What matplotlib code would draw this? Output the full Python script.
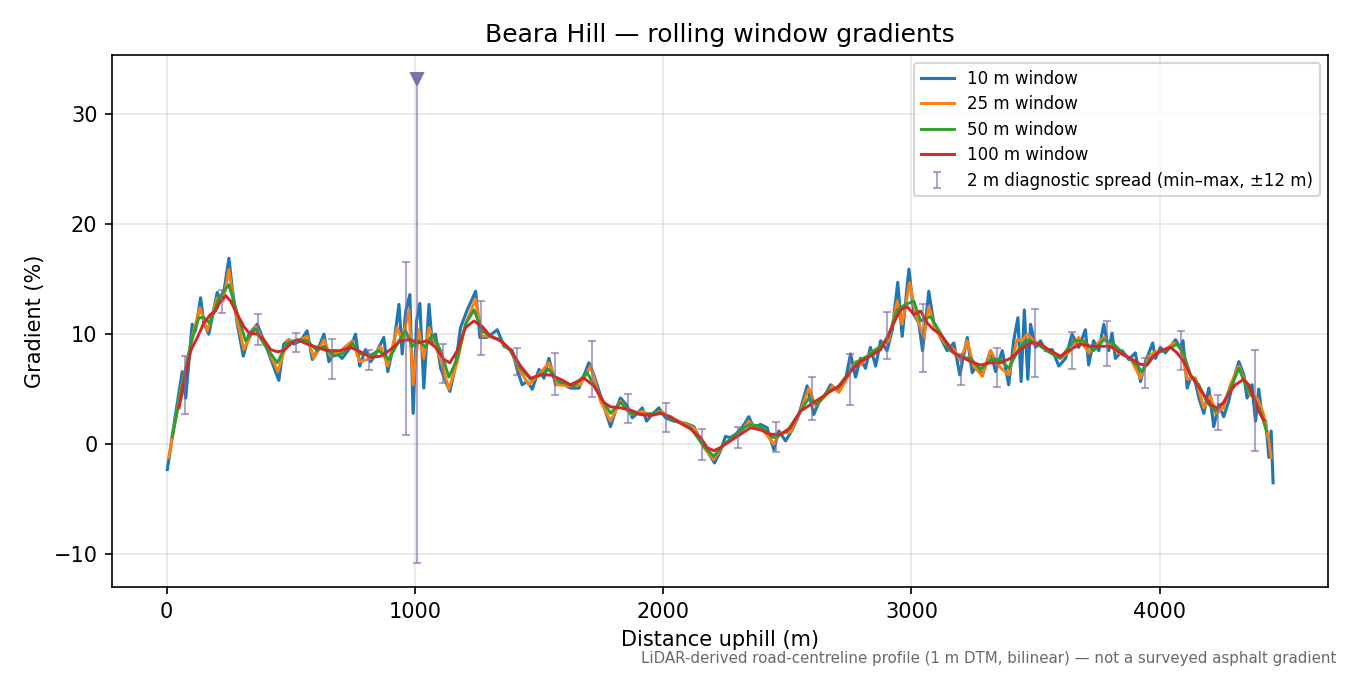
import numpy as np
import matplotlib
matplotlib.use("Agg")
import matplotlib.pyplot as plt

# ------------------------------------------------------------
#   Datos (distancia en m, gradiente en %)
# ------------------------------------------------------------
x10 = [3, 36, 63, 77, 103, 116, 137, 150, 170, 204, 217, 231, 251, 264, 285, 309,
       332, 365, 392, 419, 452, 472, 492, 513, 540, 566, 587, 607, 634, 654, 674,
       707, 741, 761, 778, 801, 822, 842, 875, 891, 915, 936, 949, 963, 980, 993,
       1007, 1020, 1036, 1057, 1070, 1083, 1104, 1124, 1141, 1164, 1184, 1211, 1245,
       1262, 1291, 1332, 1359, 1392, 1412, 1432, 1453, 1473, 1500, 1520, 1540, 1567,
       1587, 1627, 1661, 1701, 1721, 1755, 1788, 1808, 1828, 1855, 1876, 1896, 1916,
       1933, 1956, 1983, 2010, 2043, 2090, 2124, 2151, 2177, 2207, 2231, 2251, 2271,
       2292, 2318, 2345, 2365, 2392, 2419, 2446, 2466, 2493, 2520, 2547, 2580, 2607,
       2627, 2654, 2674, 2708, 2735, 2755, 2775, 2795, 2815, 2835, 2856, 2876, 2902,
       2923, 2945, 2963, 2990, 3010, 3030, 3045, 3070, 3090, 3117, 3144, 3171, 3195,
       3225, 3245, 3265, 3285, 3319, 3339, 3366, 3392, 3412, 3429, 3442, 3455, 3469,
       3480, 3500, 3520, 3540, 3567, 3594, 3621, 3647, 3674, 3701, 3714, 3734, 3755,
       3775, 3795, 3808, 3822, 3849, 3876, 3902, 3923, 3943, 3972, 3983, 4003, 4023,
       4044, 4064, 4081, 4094, 4111, 4124, 4140, 4158, 4178, 4198, 4218, 4238, 4258,
       4278, 4299, 4319, 4339, 4352, 4372, 4386, 4399, 4413, 4427, 4440, 4449, 4457]
g10 = [-2.3, 2.7, 6.6, 4.2, 10.9, 10.3, 13.3, 11.0, 10.0, 13.8, 13.0, 13.9, 16.9, 14.2,
       10.9, 8.0, 10.0, 10.9, 9.4, 7.8, 5.8, 9.1, 9.5, 9.1, 9.4, 10.3, 7.7, 8.5, 10.0,
       7.5, 8.5, 7.8, 8.8, 10.0, 7.1, 8.6, 7.5, 8.2, 9.7, 6.6, 9.1, 12.7, 8.2, 12.1,
       13.6, 2.8, 11.2, 12.8, 5.1, 12.7, 9.1, 10.0, 6.9, 5.7, 4.8, 7.2, 10.6, 12.2,
       13.9, 9.7, 9.7, 10.4, 8.9, 8.5, 6.8, 5.4, 5.7, 5.0, 6.8, 6.0, 7.8, 5.4, 5.6,
       5.1, 5.1, 7.4, 6.3, 3.9, 1.6, 3.0, 4.2, 3.5, 2.4, 2.8, 3.3, 2.1, 2.7, 3.3, 2.4,
       2.1, 1.9, 1.6, 0.3, -0.6, -1.7, -0.6, 0.7, 0.6, 0.9, 1.5, 2.5, 1.5, 1.8, 1.5,
       -0.5, 1.2, 0.3, 1.3, 2.7, 5.3, 2.7, 3.8, 4.5, 5.4, 4.8, 5.9, 8.2, 6.1, 7.8, 6.9,
       8.8, 7.1, 9.4, 8.5, 10.4, 14.7, 9.8, 15.9, 11.8, 11.0, 8.5, 13.9, 11.0, 9.7,
       8.5, 9.2, 6.3, 9.7, 6.5, 7.2, 6.2, 8.5, 6.6, 8.5, 5.4, 9.4, 11.5, 5.7, 12.2,
       5.9, 10.9, 8.8, 9.4, 8.5, 8.6, 7.1, 7.8, 10.0, 8.8, 10.4, 7.2, 9.4, 8.5, 10.9,
       8.5, 10.1, 7.8, 8.5, 7.7, 8.3, 5.7, 7.5, 9.2, 7.8, 8.8, 8.3, 8.9, 9.5, 8.8, 9.4,
       5.1, 6.0, 6.0, 4.2, 2.8, 5.1, 1.6, 3.6, 2.5, 3.9, 6.0, 7.5, 6.3, 4.2, 5.4, 2.1,
       5.0, 2.4, 2.1, -1.2, 1.2, -3.5]

x25 = [9, 56, 110, 134, 164, 204, 228, 251, 271, 311, 358, 405, 448, 486, 526, 566,
       593, 634, 660, 701, 748, 778, 822, 862, 891, 929, 949, 976, 993, 1016, 1036,
       1057, 1083, 1110, 1137, 1171, 1204, 1245, 1271, 1312, 1345, 1385, 1426, 1459,
       1506, 1540, 1573, 1627, 1667, 1708, 1748, 1788, 1828, 1869, 1916, 1950, 1990,
       2030, 2084, 2124, 2164, 2204, 2245, 2285, 2318, 2345, 2372, 2392, 2446, 2473,
       2513, 2553, 2587, 2614, 2654, 2681, 2708, 2741, 2775, 2795, 2835, 2876, 2909,
       2943, 2963, 2993, 3017, 3050, 3070, 3097, 3137, 3171, 3198, 3225, 3251, 3285,
       3319, 3352, 3392, 3426, 3446, 3466, 3506, 3547, 3600, 3641, 3674, 3714, 3748,
       3775, 3802, 3842, 3882, 3923, 3956, 3983, 4017, 4057, 4084, 4111, 4144, 4178,
       4205, 4225, 4258, 4285, 4319, 4346, 4366, 4393, 4419, 4440, 4449]
g25 = [-1.2, 4.8, 10.3, 12.4, 10.3, 13.3, 13.0, 15.9, 12.7, 8.6, 10.7, 8.8, 6.6, 9.4,
       9.4, 9.8, 7.8, 9.5, 8.0, 8.5, 9.4, 7.5, 7.8, 8.9, 7.1, 10.6, 9.4, 12.2, 5.4,
       10.4, 7.8, 10.6, 9.1, 7.2, 5.0, 7.5, 10.9, 13.2, 9.8, 9.8, 9.4, 8.5, 6.6, 5.4,
       6.5, 7.4, 5.4, 5.3, 5.4, 7.1, 3.9, 2.1, 3.9, 2.7, 3.0, 2.6, 3.0, 2.4, 1.9, 1.5,
       -0.3, -1.4, 0.0, 0.6, 1.2, 2.1, 1.5, 1.6, 0.0, 1.0, 1.1, 3.0, 5.1, 3.5, 4.4,
       5.3, 4.7, 6.0, 7.5, 7.2, 8.3, 8.9, 9.4, 13.0, 10.9, 14.7, 11.8, 9.7, 12.5, 10.4,
       9.1, 8.6, 7.6, 9.4, 7.1, 6.2, 8.5, 7.1, 6.3, 9.5, 9.4, 10.0, 9.2, 8.5, 7.8, 8.5,
       9.7, 8.3, 9.1, 9.7, 8.9, 8.2, 7.8, 6.0, 8.0, 8.4, 8.5, 9.2, 8.8, 5.9, 6.0, 3.3,
       4.4, 2.8, 3.3, 5.4, 7.1, 5.6, 4.4, 4.2, 2.7, 0.3, -1.2]

x50 = [23, 56, 97, 130, 150, 174, 211, 251, 278, 318, 358, 392, 446, 486, 540, 566,
       607, 634, 674, 714, 748, 781, 822, 855, 895, 936, 963, 989, 1016, 1043, 1070,
       1104, 1137, 1171, 1204, 1238, 1271, 1312, 1345, 1385, 1426, 1466, 1506, 1540,
       1580, 1641, 1694, 1735, 1788, 1828, 1869, 1922, 1990, 2043, 2110, 2164, 2204,
       2245, 2285, 2325, 2352, 2392, 2446, 2500, 2553, 2587, 2621, 2661, 2701, 2741,
       2782, 2822, 2876, 2909, 2943, 2976, 3010, 3037, 3077, 3117, 3157, 3198, 3238,
       3278, 3319, 3359, 3392, 3439, 3473, 3520, 3560, 3600, 3654, 3694, 3734, 3775,
       3815, 3855, 3896, 3929, 3963, 3990, 4030, 4070, 4097, 4124, 4158, 4191, 4225,
       4258, 4292, 4319, 4346, 4379, 4406, 4430]
g50 = [0.7, 4.5, 9.1, 11.5, 11.5, 11.0, 13.3, 14.5, 12.4, 9.4, 10.5, 9.1, 7.4, 9.2,
       9.5, 9.4, 8.5, 8.9, 8.0, 8.3, 9.2, 8.2, 8.1, 8.5, 7.7, 9.4, 10.3, 8.9, 9.4, 8.8,
       10.0, 8.5, 6.1, 7.8, 10.9, 12.2, 10.3, 9.7, 9.5, 8.5, 6.9, 5.9, 6.3, 6.8, 5.7,
       5.3, 6.5, 4.8, 2.8, 3.8, 2.8, 2.7, 2.9, 2.2, 1.5, -0.2, -1.1, 0.0, 0.7, 1.5, 1.8,
       1.6, 0.6, 1.2, 3.0, 4.2, 3.6, 4.8, 5.1, 6.3, 7.5, 8.0, 8.9, 9.8, 12.2, 12.7,
       13.0, 11.2, 11.6, 10.1, 8.5, 7.9, 7.8, 6.8, 7.7, 7.7, 6.9, 8.9, 9.5, 8.9, 8.3,
       7.8, 9.4, 9.4, 8.5, 9.5, 9.1, 8.2, 7.5, 6.6, 7.8, 8.3, 8.6, 9.1, 8.2, 6.3, 5.4,
       3.8, 3.0, 3.8, 5.4, 6.9, 5.4, 4.2, 3.0, 1.2]

x100 = [50, 97, 124, 150, 177, 197, 217, 238, 258, 285, 311, 332, 365, 392, 419, 446,
        472, 499, 526, 566, 607, 647, 701, 741, 781, 822, 862, 902, 942, 983, 1010,
        1050, 1083, 1117, 1141, 1171, 1204, 1238, 1271, 1305, 1345, 1385, 1426, 1466,
        1506, 1546, 1587, 1627, 1681, 1721, 1761, 1788, 1828, 1869, 1909, 1949, 1990,
        2030, 2070, 2110, 2151, 2177, 2204, 2231, 2271, 2312, 2352, 2392, 2433, 2473,
        2513, 2553, 2594, 2634, 2674, 2715, 2755, 2795, 2835, 2876, 2902, 2929, 2956,
        2983, 3010, 3037, 3064, 3090, 3117, 3144, 3171, 3198, 3238, 3278, 3319, 3359,
        3399, 3439, 3480, 3520, 3560, 3600, 3641, 3681, 3721, 3761, 3802, 3842, 3882,
        3923, 3950, 3976, 4003, 4044, 4070, 4097, 4124, 4151, 4178, 4205, 4231, 4258,
        4285, 4305, 4339, 4359, 4379, 4399, 4419]
g100 = [3.3, 8.5, 9.7, 11.0, 11.8, 12.1, 13.0, 13.5, 13.0, 11.8, 10.7, 10.1, 10.0,
        9.5, 8.6, 8.4, 8.5, 9.1, 9.5, 9.1, 8.8, 8.5, 8.5, 8.8, 8.4, 7.9, 8.0, 8.6, 9.4,
        9.5, 9.2, 9.4, 8.8, 7.7, 7.4, 8.5, 10.6, 11.2, 10.7, 9.8, 9.4, 8.6, 7.1, 6.0,
        6.3, 6.3, 5.9, 5.4, 6.0, 5.3, 3.8, 3.4, 3.3, 3.1, 2.7, 2.6, 2.8, 2.5, 1.9, 1.4,
        0.6, -0.3, -0.6, -0.3, 0.3, 0.9, 1.5, 1.3, 0.9, 0.9, 1.5, 3.0, 3.6, 4.2, 4.8,
        5.4, 6.6, 7.5, 8.0, 8.6, 9.7, 11.0, 12.2, 12.5, 11.8, 12.1, 11.0, 10.4, 10.0,
        9.2, 8.3, 8.0, 7.5, 7.2, 7.4, 7.4, 7.8, 8.6, 9.2, 9.1, 8.5, 8.0, 8.6, 9.1, 8.9,
        8.9, 8.9, 8.3, 7.8, 7.25, 7.2, 8.0, 8.5, 8.8, 8.3, 7.5, 6.3, 5.4, 4.5, 3.6, 3.3,
        3.8, 4.8, 5.4, 5.9, 5.4, 4.2, 3.0, 2.2]

# Dispersión diagnóstica de 2 m (mín–máx en ±12 m)
x_diag = [76, 224, 368, 520, 667, 815, 966, 1010, 1114, 1265, 1412, 1563, 1712,
          1859, 2010, 2155, 2302, 2453, 2600, 2751, 2900, 3047, 3198, 3345, 3497,
          3645, 3789, 3939, 4087, 4235, 4386]
lo_diag = [2.75, 11.9, 9.0, 8.4, 5.9, 6.7, 0.85, -10.8, 5.6, 8.1, 6.3, 4.45, 4.3,
           1.95, 1.1, -1.45, -0.3, -0.7, 2.2, 3.6, 7.7, 6.6, 5.4, 5.2, 6.1, 6.85,
           7.1, 5.1, 6.7, 1.3, -0.6]
hi_diag = [8.0, 14.0, 11.8, 10.1, 9.6, 8.6, 16.6, 33.2, 9.1, 13.0, 8.7, 8.3, 9.4,
           4.6, 3.7, 1.4, 1.6, 2.0, 6.1, 8.2, 12.0, 12.7, 8.2, 8.7, 12.3, 10.2, 11.2,
           7.85, 10.3, 4.45, 8.55]

# pico máximo marcado
x_peak = 1010
g_peak = 33.2

# ------------------------------------------------------------
#   Figura
# ------------------------------------------------------------
fig, ax = plt.subplots(figsize=(9, 4.5), dpi=150)
fig.subplots_adjust(left=0.083, right=0.984, top=0.919, bottom=0.130)

ax.plot(x10, g10, color='tab:blue', lw=1.5, label='10 m window')
ax.plot(x25, g25, color='tab:orange', lw=1.4, label='25 m window')
ax.plot(x50, g50, color='tab:green', lw=1.4, label='50 m window')
ax.plot(x100, g100, color='tab:red', lw=1.4, label='100 m window')

lo = np.array(lo_diag)
hi = np.array(hi_diag)
mid = (lo + hi) / 2
half = (hi - lo) / 2
ax.errorbar(x_diag, mid, yerr=half, fmt='none', ecolor='#7b6ba8', alpha=0.6,
            elinewidth=1, capsize=2, capthick=1,
            label='2 m diagnostic spread (min–max, ±12 m)')

ax.plot([x_peak], [g_peak], marker='v', ms=6, color='#7a68a6', alpha=0.9, ls='none')

ax.set_title("Beara Hill — rolling window gradients")
ax.set_xlabel("Distance uphill (m)")
ax.set_ylabel("Gradient (%)")
ax.grid(alpha=0.3)
ax.legend(loc='upper right', fontsize=8, labelspacing=0.45)

fig.text(0.99, 0.013,
         "LiDAR-derived road-centreline profile (1 m DTM, bilinear) — not a surveyed asphalt gradient",
         ha='right', va='bottom', fontsize=7.2, color='dimgray')

plt.savefig("out.png", dpi=150)
